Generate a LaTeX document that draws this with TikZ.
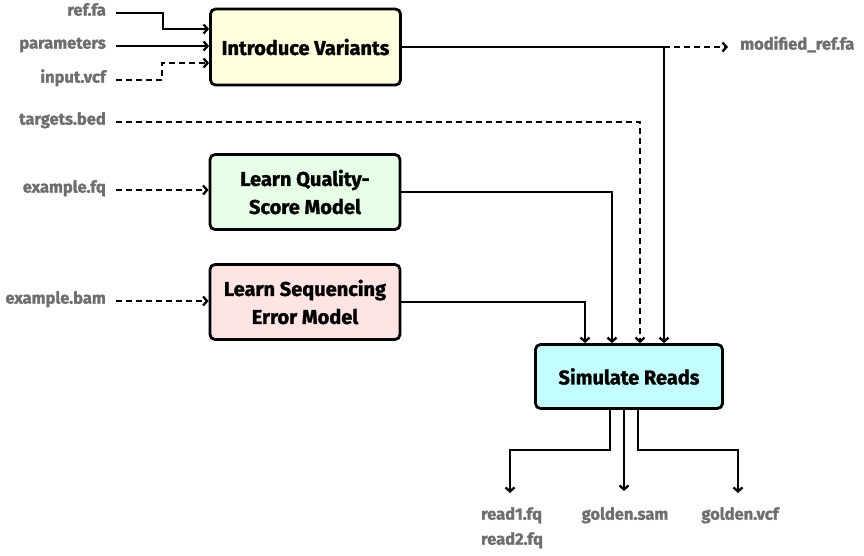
\documentclass[tikz,border=0pt]{standalone}
\usepackage{fontspec}
\setmainfont{Fira Sans}[BoldFeatures={FakeBold=1.4}]
\usetikzlibrary{arrows.meta}
\definecolor{lblgray}{HTML}{6E6E6E}
\definecolor{fillyellow}{HTML}{FFFFE0}
\definecolor{fillgreen}{HTML}{E6FFE6}
\definecolor{fillpink}{HTML}{FFE4E4}
\definecolor{fillcyan}{HTML}{C4FFFF}
\begin{document}
\begin{tikzpicture}[x=1pt,y=-1pt,
  proc/.style={draw=black, line width=2.8pt, rounded corners=5pt, minimum width=190pt,
    font=\bfseries\fontsize{20}{28}\selectfont, align=center, inner sep=0pt},
  lab/.style={text=lblgray, font=\bfseries\fontsize{16.5}{25}\selectfont, inner sep=0pt},
  conn/.style={line width=2.3pt, -{Straight Barb[length=4pt,width=9pt,line width=2.3pt]}},
  dconn/.style={conn, dash pattern=on 6pt off 4pt},
]
\useasboundingbox (0,0) rectangle (864,555);

% process boxes
\node[proc, fill=fillyellow, minimum height=76pt] (iv) at (305.5,47) {Introduce Variants};
\node[proc, fill=fillgreen, minimum height=75pt] (lq) at (305,192) {Learn Quality-\\Score Model};
\node[proc, fill=fillpink, minimum height=75pt] (ls) at (305,302) {Learn Sequencing\\Error Model};
\node[proc, fill=fillcyan, minimum width=187pt, minimum height=64pt] (sr) at (629,376.5) {Simulate Reads};

% input labels
\node[lab, anchor=mid east] (reffa) at (106,13) {ref.fa};
\node[lab, anchor=mid east] (params) at (106,46) {parameters};
\node[lab, anchor=mid east] (ivcf) at (106,80) {input.vcf};
\node[lab, anchor=mid east] (tbed) at (106,122) {targets.bed};
\node[lab, anchor=mid east] (exfq) at (106,190) {example.fq};
\node[lab, anchor=mid east] (exbam) at (106,301) {example.bam};
\node[lab, anchor=mid west] (modref) at (740,47) {modified\_ref.fa};

% output labels
\node[lab, anchor=north, align=left] (reads) at (512,507) {read1.fq\\read2.fq};
\node[lab, anchor=north] (gsam) at (625,507) {golden.sam};
\node[lab, anchor=north] (gvcf) at (740,507) {golden.vcf};

% bends and junctions
\coordinate (k1) at (163,29);
\coordinate (k2) at (162,63);
\coordinate (j1) at ([xshift=35pt]sr.north);
\coordinate (j2) at ([xshift=11pt]sr.north);
\coordinate (j3) at ([xshift=-17pt]sr.north);
\coordinate (j4) at ([xshift=-44pt]sr.north);
\coordinate (o1) at ([xshift=-19pt]sr.south);
\coordinate (o2) at ([xshift=-5pt]sr.south);
\coordinate (o3) at ([xshift=9pt]sr.south);
\coordinate (e1) at (510,493);
\coordinate (e2) at (624,491);
\coordinate (e3) at (738,493);

% inputs to Introduce Variants
\draw[conn] ([xshift=10pt]reffa.mid east) -| (k1) -- (k1 -| iv.west);
\draw[conn] ([xshift=10pt]params.mid east) -- (params.mid east -| iv.west);
\draw[dconn] ([xshift=10pt]ivcf.mid east) -| (k2) -- (k2 -| iv.west);

% learning inputs
\draw[dconn] ([xshift=10pt]exfq.mid east) -- (exfq.mid east -| lq.west);
\draw[dconn] ([xshift=10pt]exbam.mid east) -- (exbam.mid east -| ls.west);

% to Simulate Reads
\draw[conn] (iv.east) -| (j1);
\draw[dconn] (iv.east -| j1) -- ([xshift=-12pt]modref.mid west);
\draw[dconn] ([xshift=10pt]tbed.mid east) -| (j2);
\draw[conn] (lq.east) -| (j3);
\draw[conn] (ls.east) -| (j4);

% outputs
\draw[conn] (o1) -- ++(0,40) -| (e1);
\draw[conn] (o2) -- (o2 |- e2);
\draw[conn] (o3) -- ++(0,40) -| (e3);
\end{tikzpicture}
\end{document}
